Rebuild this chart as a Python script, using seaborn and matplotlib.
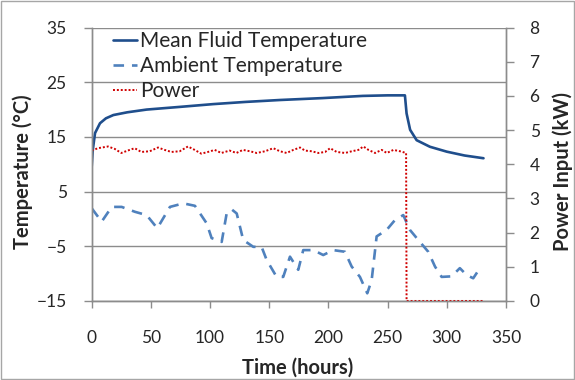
import numpy as np
import pandas as pd
import matplotlib
matplotlib.use("Agg")
import matplotlib.pyplot as plt
import seaborn as sns

# mean fluid temperature (hours, degC)
fluid_t = [0, 0.9, 2.8, 7, 12, 18.3, 30, 46.4, 75, 102.7, 130, 159, 195, 229, 250, 264.6,
           266, 269, 274.5, 285.7, 300, 315, 331]
fluid_T = [9.6, 12.6, 15.7, 17.5, 18.4, 19.0, 19.5, 20.0, 20.5, 21.0, 21.4, 21.75, 22.1, 22.5, 22.6, 22.6,
           19.3, 16.3, 14.4, 13.2, 12.3, 11.6, 11.1]

# ambient temperature
amb_t = [0, 8.4, 16.9, 25.3, 36.6, 46.4, 55.4, 66.1, 77.4, 87.2, 97.1, 101.3, 109.8, 114, 118.2,
         122.5, 128, 136.5, 143.5, 147.8, 156.2, 161.8, 167.5, 174.5, 178.7, 187.2, 195.6, 204,
         213.9, 219.6, 226.6, 232.8, 236.5, 240.7, 249.2, 256.2, 263.2, 268.8, 275.9, 284.3, 290,
         295.6, 304, 311, 316.7, 322.3, 328]
amb_T = [1.95, -0.5, 2.2, 2.2, 1.3, 0.7, -1.7, 2.2, 2.85, 2.4, -0.8, -3.5, -4.2, 1.0, 1.75,
         1.0, -3.85, -5.1, -5.1, -7.5, -10.6, -10.6, -6.9, -9.3, -5.7, -5.7, -6.6, -5.7,
         -6.0, -8.7, -10.6, -13.6, -11.2, -3.2, -2.0, -0.2, 0.7, -2.0, -3.85, -6.0, -8.7,
         -10.6, -10.5, -9.0, -10.25, -10.85, -9.0]

# power input (kW)
pow_t = [0, 5.3, 13.8, 19.4, 25, 32, 36.3, 41.9, 49, 56, 61.6, 67.3, 74.3, 81.3, 87, 92.6, 98.2,
         103.9, 109.5, 116.5, 122.2, 127.8, 133.7, 139.3, 146.4, 153.4, 159, 164.7, 170.3, 176,
         180.2, 185.9, 191.5, 197.2, 201.4, 207, 214, 219.7, 225.3, 229.5, 233.8, 239.4, 245,
         249.3, 254.9, 260.5, 265.6, 266, 331]
pow_P = [4.40, 4.47, 4.52, 4.45, 4.33, 4.42, 4.47, 4.36, 4.38, 4.49, 4.42, 4.36, 4.38, 4.52, 4.42,
         4.31, 4.36, 4.42, 4.33, 4.40, 4.33, 4.42, 4.38, 4.33, 4.38, 4.47, 4.38, 4.33, 4.42, 4.49,
         4.40, 4.38, 4.33, 4.36, 4.47, 4.36, 4.33, 4.38, 4.42, 4.52, 4.42, 4.33, 4.42, 4.33, 4.42,
         4.38, 4.33, 0, 0]

sns.set_style("white")
plt.rcParams['font.family'] = ['Lato', 'DejaVu Sans']

fig = plt.figure(figsize=(5.75, 3.8), dpi=100)
fig.patches.append(plt.Rectangle((0.002, 0.003), 0.996, 0.994, transform=fig.transFigure,
                                 fill=False, edgecolor='#a6a6a6', linewidth=1))
ax = fig.add_axes([0.1595, 0.208, 0.7205, 0.7195])
ax2 = ax.twinx()

sns.lineplot(x=fluid_t, y=fluid_T, ax=ax, color='#1f4e8c', linewidth=1.9,
             label='Mean Fluid Temperature', legend=False)
sns.lineplot(x=amb_t, y=amb_T, ax=ax, color='#4f81bd', linewidth=1.9, linestyle=(0, (4, 3)),
             label='Ambient Temperature', legend=False)
sns.lineplot(x=pow_t, y=pow_P, ax=ax2, color='#d00000', linewidth=1.4, linestyle=(0, (1, 1)),
             label='Power', legend=False)

ax.set_xlim(0, 350)
ax.set_ylim(-15, 35)
ax.set_yticks(range(-15, 36, 10))
ax.set_xticks(range(0, 351, 50))
ax2.set_ylim(0, 8)
ax2.set_yticks(range(0, 9))

ax.yaxis.grid(True, color='#8c8c8c', linewidth=1)
ax.set_axisbelow(True)
for a in (ax, ax2):
    for s in a.spines.values():
        s.set_color('#8c8c8c')
        s.set_linewidth(1)
    a.spines['top'].set_visible(False)
ax.tick_params(axis='both', which='both', direction='out', length=5, width=1, color='#8c8c8c',
               labelsize=12.5, left=True, bottom=True)
ax.tick_params(axis='y', pad=12, length=6)
ax.tick_params(axis='x', pad=16)
ax2.tick_params(axis='y', direction='out', length=6, width=1, color='#8c8c8c',
                labelsize=12.5, pad=11, right=True)

ax.set_xlabel('Time (hours)', fontsize=14.5, fontweight='bold')
ax.set_ylabel('Temperature (°C)', fontsize=14.5, fontweight='bold')
ax2.set_ylabel('Power Input (kW)', fontsize=14.5, fontweight='bold')
ax.xaxis.set_label_coords(0.497, -0.208)
ax.yaxis.set_label_coords(-0.142, 0.472)
ax2.yaxis.set_label_coords(1.113, 0.472)

h1, l1 = ax.get_legend_handles_labels()
h2, l2 = ax2.get_legend_handles_labels()
leg = ax2.legend(h1 + h2, l1 + l2, loc='upper left', bbox_to_anchor=(0.051, 0.986), frameon=False,
                 fontsize=15, handlelength=1.15, handletextpad=0.15, labelspacing=0.24,
                 borderaxespad=0, borderpad=0)

fig.savefig('out.png', dpi=100)
